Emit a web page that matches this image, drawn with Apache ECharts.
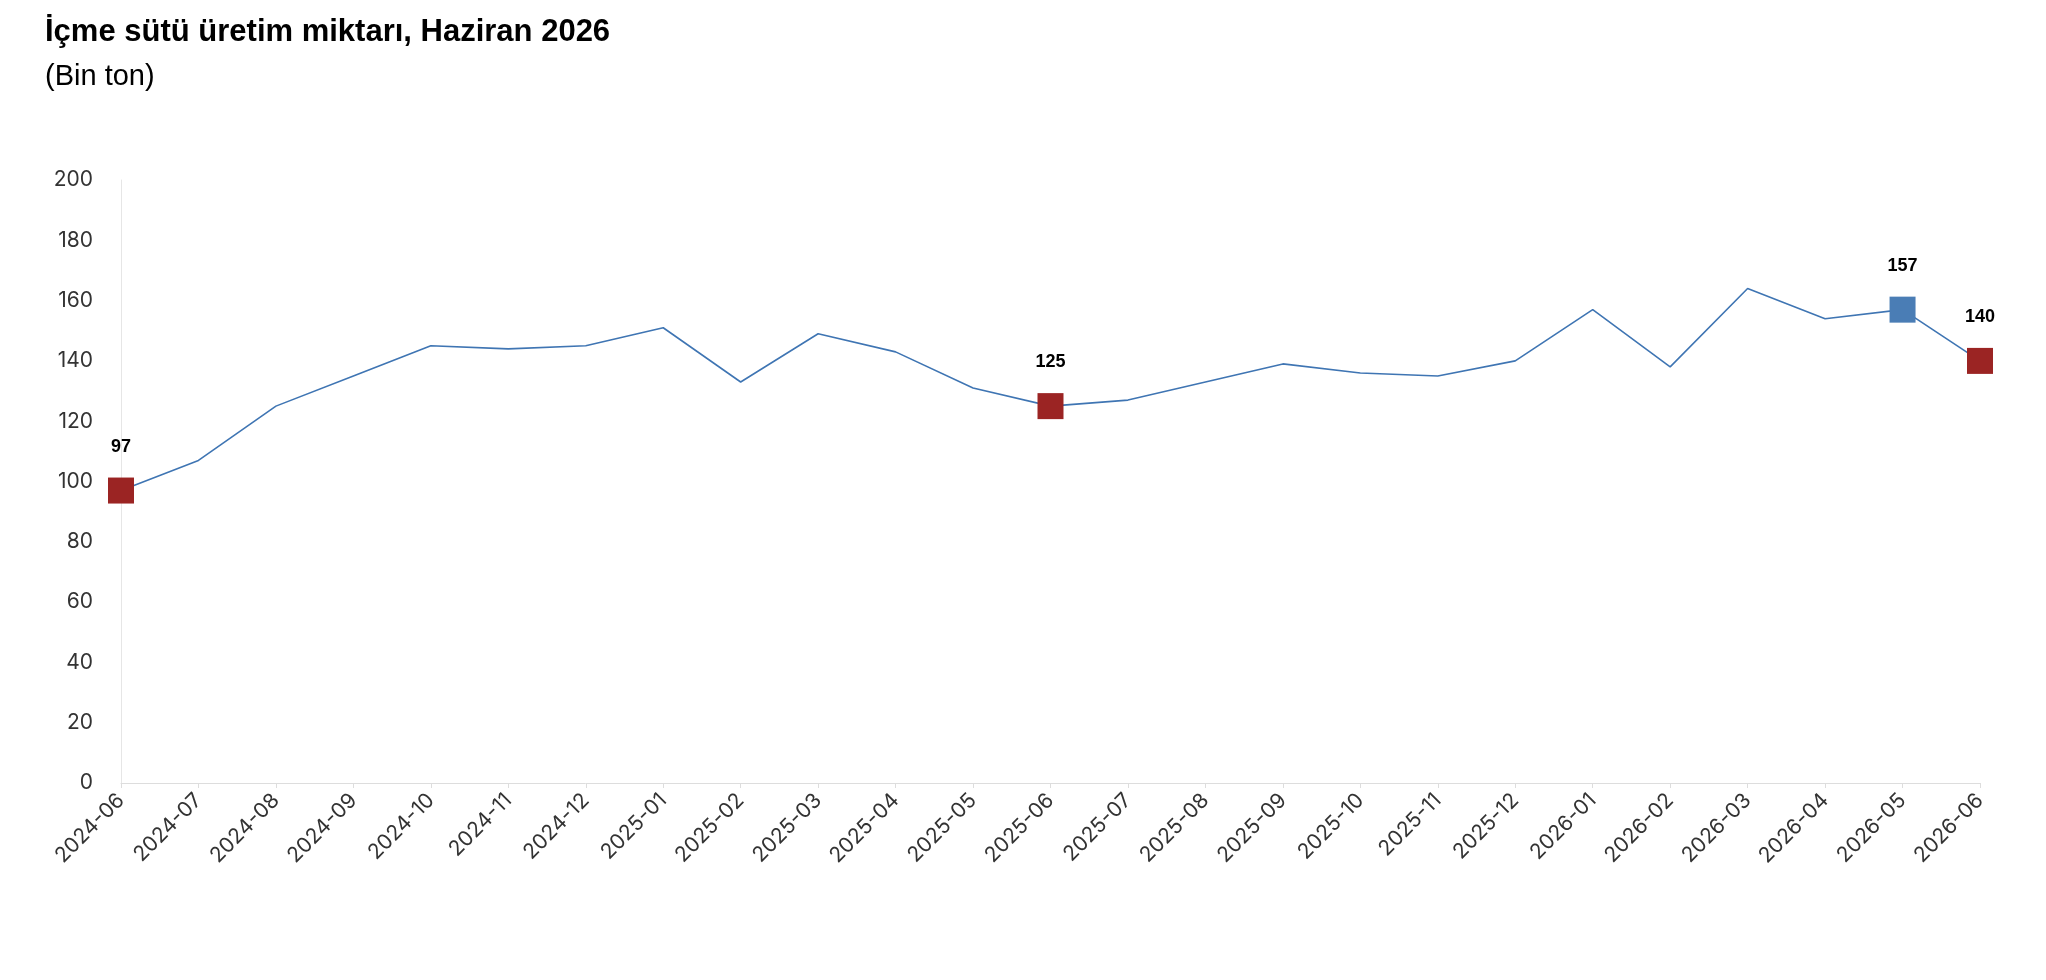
<!DOCTYPE html>
<html><head><meta charset="utf-8">
<script src="https://cdn.jsdelivr.net/npm/echarts@6/dist/echarts.min.js"></script>
<style>html,body{margin:0;padding:0;background:#fff}#c{width:2046px;height:980px}</style>
</head><body><div id="c"></div>
<script>
const months = ["2024-06","2024-07","2024-08","2024-09","2024-10","2024-11","2024-12","2025-01","2025-02","2025-03","2025-04","2025-05","2025-06","2025-07","2025-08","2025-09","2025-10","2025-11","2025-12","2026-01","2026-02","2026-03","2026-04","2026-05","2026-06"];
const values = [97,107,125,135,145,144,145,151,133,149,143,131,125,127,133,139,136,135,140,157,138,164,154,157,140];
const redIdx = [0,12,24];
const blueIdx = [23];
const RED = '#9b2423', BLUE = '#4a7db5';
const data = values.map((v,i)=>{
  const hl = redIdx.includes(i) || blueIdx.includes(i);
  if(!hl) return {value:v, symbolSize:0};
  return {value:v, symbol:'rect', symbolSize:26,
    itemStyle:{color: redIdx.includes(i)?RED:BLUE},
    label:{show:true, position:'top', distance:22, formatter:'{c}', fontWeight:'bold', fontSize:18, color:'#000', fontFamily:'Arial, Liberation Sans'}};
});
const chart = echarts.init(document.getElementById('c'));
chart.setOption({
  animation:false,
  title:{text:'İçme sütü üretim miktarı, Haziran 2026', subtext:'(Bin ton)', left:40, top:12,
    textStyle:{fontSize:31,fontWeight:'bold',color:'#000',fontFamily:'Arial, Liberation Sans'},
    subtextStyle:{fontSize:29,color:'#000',fontFamily:'Arial, Liberation Sans'}, itemGap:14},
  grid:{left:121,right:66,top:180,bottom:197},
  xAxis:{type:'category',data:months,boundaryGap:false,
    axisLine:{lineStyle:{color:'#ddd'}},axisTick:{show:true,lineStyle:{color:'#ddd'}},
    axisLabel:{rotate:45,fontSize:21,color:'#333',margin:14,fontFamily:'Inter, Arial'}},
  yAxis:{type:'value',min:0,max:200,interval:20,
    axisLine:{show:true,lineStyle:{color:'#e6e6e6'}},splitLine:{show:false},
    axisLabel:{fontSize:21,color:'#333',margin:28,fontFamily:'Inter, Arial'}},
  series:[{type:'line',data:data,symbol:'none',showSymbol:true,
    lineStyle:{color:'#3f75b3',width:1.6},itemStyle:{color:'#3f75b3'}}]
});
</script></body></html>
